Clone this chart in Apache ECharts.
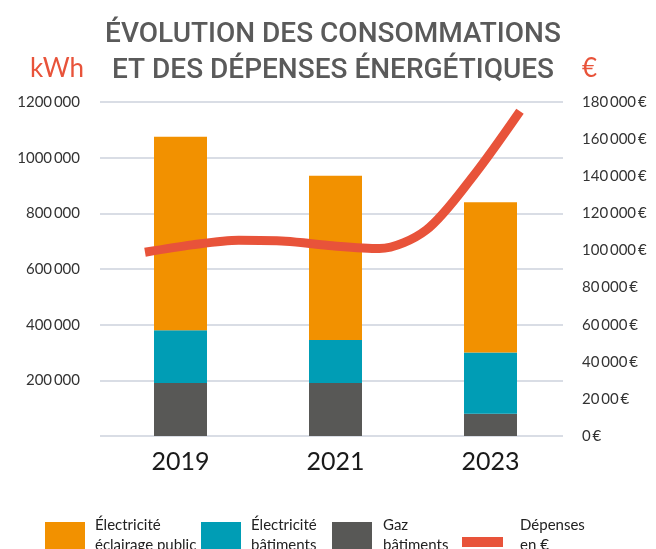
<!DOCTYPE html>
<html>
<head>
<meta charset="utf-8">
<script src="https://cdn.jsdelivr.net/npm/echarts@6/dist/echarts.min.js"></script>
<style>html,body{margin:0;padding:0;background:#fff}#c{width:656px;height:549px}</style>
</head>
<body>
<div id="c"></div>
<script>
// ---- data ----
const years = ['2019', '2021', '2023'];
const elecEclairage = [695000, 590000, 540000];
const elecBatiments = [190000, 155000, 220000];
const gazBatiments = [190000, 190000, 80000];
// expenses curve (half-year steps)
const depenseSteps = ['2019-S1','2019-S2','2020-S1','2020-S2','2021-S1','2021-S2','2022-S1','2022-S2','2023-S1'];
const depenses = [99000, 103000, 105500, 105000, 102500, 101000, 111000, 140000, 175000];
// tick labels
const kwhTicks = ['', '200\u2009000', '400\u2009000', '600\u2009000', '800\u2009000', '1000\u2009000', '1200\u2009000'];
const euroTicks = ['0\u2009€', '20\u200900\u2009€', '40\u2009000\u2009€', '60\u2009000\u2009€', '80\u2009000\u2009€', '100\u2009000\u2009€',
  '120\u2009000\u2009€', '140\u2009000\u2009€', '160\u2009000\u2009€', '180\u2009000\u2009€'];

const C_ORANGE = '#f29100', C_TEAL = '#009db5', C_GRAY = '#585856', C_RED = '#e8533a';
const FONT = 'Lato';
const TOP = 102, BOTTOM = 113;

const names = ['Électricité\néclairage public', 'Électricité\nbâtiments', 'Gaz\nbâtiments', 'Dépenses\nen €'];
const ICON_BOX = 'path://M0,-4M0,0H40V30H0Z';
const ICON_LINE = 'path://M0,-19M41,15M0,0H41V10H0Z';

function legendAt(left, name, icon, pad, w) {
  return {
    left: left, top: 515, padding: 0, itemWidth: w || 40, itemHeight: 34,
    selectedMode: false, symbolKeepAspect: false, data: [{ name: name, icon: icon }],
    textStyle: { fontFamily: FONT, fontSize: 15, lineHeight: 20, color: '#222', padding: [0, 0, 0, pad] }
  };
}

const chart = echarts.init(document.getElementById('c'), null, { renderer: 'canvas' });
chart.setOption({
  animation: false,
  title: [
    { text: 'ÉVOLUTION DES CONSOMMATIONS\nET DES DÉPENSES ÉNERGÉTIQUES', left: 333, textAlign: 'center', top: 17,
      padding: 0,
      textStyle: { fontFamily: 'Roboto', fontWeight: 500, fontSize: 28, lineHeight: 36, color: '#5a5a5a' } },
    { text: 'kWh', left: 30, top: 54, padding: 0,
      textStyle: { fontFamily: FONT, fontWeight: 'normal', fontSize: 26, lineHeight: 30, color: C_RED } },
    { text: '€', left: 582, top: 54, padding: 0,
      textStyle: { fontFamily: FONT, fontWeight: 'normal', fontSize: 26, lineHeight: 30, color: C_RED } }
  ],
  legend: [
    legendAt(45, names[0], ICON_BOX, 5),
    legendAt(201, names[1], ICON_BOX, 5),
    legendAt(332, names[2], ICON_BOX, 6),
    legendAt(462, names[3], ICON_LINE, 12, 41)
  ],
  grid: [
    { left: 100, right: 93, top: TOP, bottom: BOTTOM },
    { left: 103, right: 88, top: TOP, bottom: BOTTOM },
    { left: 145, right: 136, top: TOP, bottom: BOTTOM }
  ],
  xAxis: [
    { gridIndex: 0, type: 'category', data: years, show: false },
    { gridIndex: 1, type: 'category', data: years,
      axisLine: { show: false }, axisTick: { show: false },
      axisLabel: { fontFamily: FONT, fontSize: 25, color: '#1a1a1a', margin: 13 } },
    { gridIndex: 2, type: 'category', data: depenseSteps, boundaryGap: false, show: false }
  ],
  yAxis: [
    { gridIndex: 0, type: 'value', position: 'left', min: 0, max: 1200000, interval: 200000,
      axisLine: { show: false }, axisTick: { show: false },
      splitLine: { show: true, lineStyle: { color: '#d9dde5', width: 2 } },
      axisLabel: { fontFamily: FONT, fontSize: 15, color: '#333', margin: 20,
        formatter: v => kwhTicks[Math.round(v / 200000)] } },
    { gridIndex: 0, type: 'value', position: 'right', min: 0, max: 180000, interval: 20000,
      axisLine: { show: false }, axisTick: { show: false }, splitLine: { show: false },
      axisLabel: { fontFamily: FONT, fontSize: 15, color: '#333', margin: 19,
        formatter: v => euroTicks[Math.round(v / 20000)] } },
    { gridIndex: 1, type: 'value', min: 0, max: 1200000, show: false, splitLine: { show: false } },
    { gridIndex: 2, type: 'value', min: 0, max: 180000, show: false, splitLine: { show: false } }
  ],
  series: [
    { name: names[2], type: 'bar', stack: 'kwh', xAxisIndex: 1, yAxisIndex: 2, barWidth: 53,
      data: gazBatiments, itemStyle: { color: C_GRAY } },
    { name: names[1], type: 'bar', stack: 'kwh', xAxisIndex: 1, yAxisIndex: 2, barWidth: 53,
      data: elecBatiments, itemStyle: { color: C_TEAL } },
    { name: names[0], type: 'bar', stack: 'kwh', xAxisIndex: 1, yAxisIndex: 2, barWidth: 53,
      data: elecEclairage, itemStyle: { color: C_ORANGE } },
    { name: names[3], type: 'line', xAxisIndex: 2, yAxisIndex: 3, data: depenses,
      smooth: 0.3, showSymbol: false, symbol: 'none', color: C_RED,
      lineStyle: { color: C_RED, width: 9, cap: 'butt', join: 'round' }, itemStyle: { color: C_RED } }
  ]
});
</script>
</body>
</html>
